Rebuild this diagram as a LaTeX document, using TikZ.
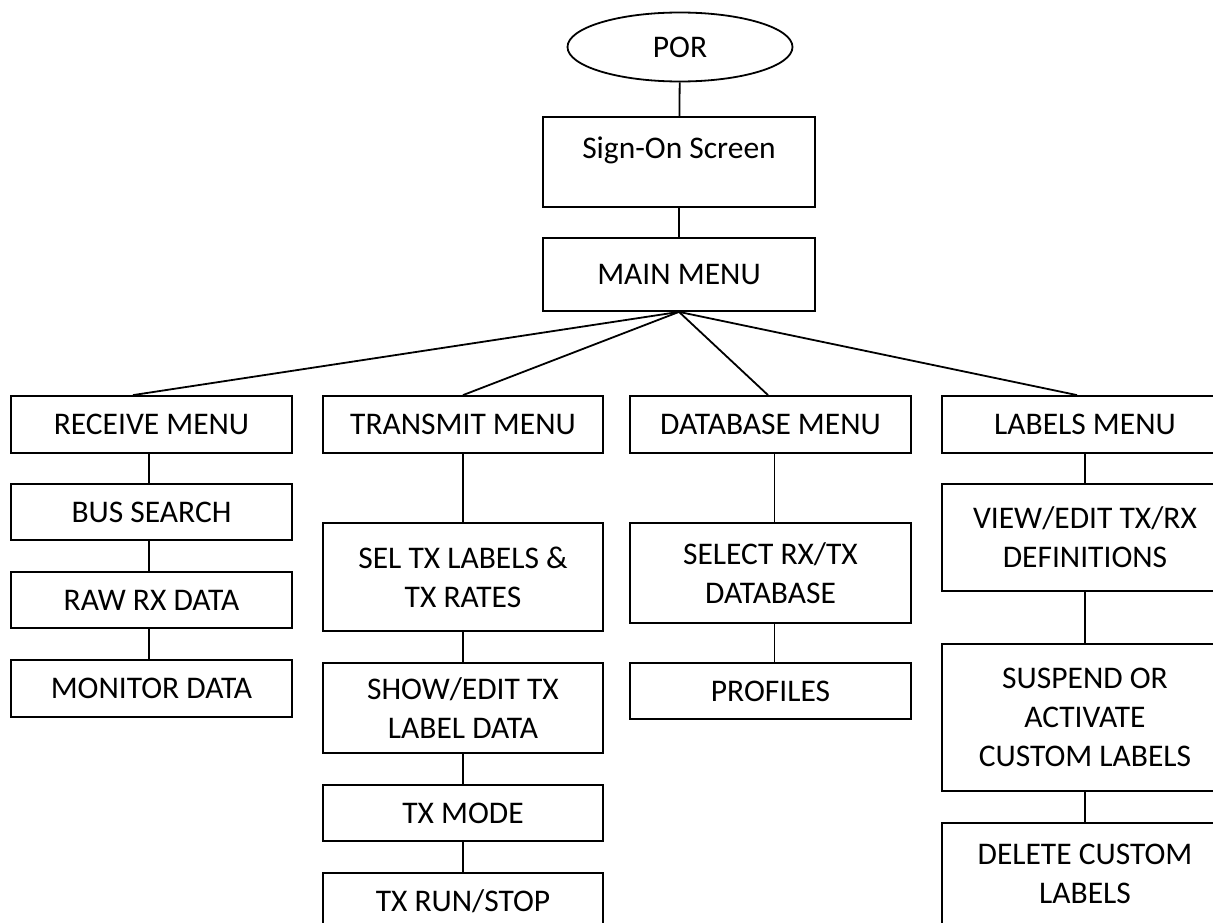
\documentclass[tikz,border=0pt]{standalone}
\usepackage{fontspec}
\setmainfont{Carlito}
\usetikzlibrary{shapes.geometric}

\tikzset{
  menubox/.style={draw=black, line width=1.8pt, rectangle, inner sep=0pt,
    align=center, font=\fontsize{31.5}{39}\selectfont},
  startnode/.style={draw=black, line width=1.8pt, ellipse, inner sep=0pt,
    font=\fontsize{31.5}{39}\selectfont},
  link/.style={draw=black, line width=1.8pt},
}

\begin{document}
\begin{tikzpicture}[x=1pt, y=-1pt]
  \useasboundingbox (0,0) rectangle (1213,923);
  \clip (0,0) rectangle (1213,923);

  % top of the chart
  \node[startnode, minimum width=225, minimum height=69] (por) at (680,47) {POR};
  \node[menubox, minimum width=272, minimum height=90] (sign) at (679,162)
    {Sign-On Screen\\[-22pt]\strut};
  \node[menubox, minimum width=272, minimum height=73] (main) at (679,274.5) {MAIN MENU};

  % receive column
  \node[menubox, minimum width=281, minimum height=57] (recv) at (151.5,424.5) {RECEIVE MENU};
  \node[menubox, minimum width=281, minimum height=56] (bus)  at (151.5,512)   {BUS SEARCH};
  \node[menubox, minimum width=281, minimum height=56] (raw)  at (151.5,600)   {RAW RX DATA};
  \node[menubox, minimum width=281, minimum height=57] (mon)  at (151.5,688.5) {MONITOR DATA};

  % transmit column
  \node[menubox, minimum width=280, minimum height=57]  (tx)   at (463,424.5) {TRANSMIT MENU};
  \node[menubox, minimum width=280, minimum height=108] (sel)  at (463,577)   {SEL TX LABELS \&\\TX RATES};
  \node[menubox, minimum width=280, minimum height=90]  (show) at (463,708)   {SHOW/EDIT TX\\LABEL DATA};
  \node[menubox, minimum width=280, minimum height=56]  (mode) at (463,813)   {TX MODE};
  \node[menubox, minimum width=280, minimum height=56]  (run)  at (463,901)   {TX RUN/STOP};

  % database column
  \node[menubox, minimum width=281, minimum height=57]  (db)    at (770.5,424.5) {DATABASE MENU};
  \node[menubox, minimum width=281, minimum height=100] (seldb) at (770.5,573)   {SELECT RX/TX\\DATABASE};
  \node[menubox, minimum width=281, minimum height=56]  (prof)  at (770.5,691)   {PROFILES};

  % labels column
  \node[menubox, minimum width=286, minimum height=57]  (lab)  at (1085,424.5) {LABELS MENU};
  \node[menubox, minimum width=286, minimum height=107] (view) at (1085,537.5) {VIEW/EDIT TX/RX\\DEFINITIONS};
  \node[menubox, minimum width=286, minimum height=147] (susp) at (1085,717.5) {SUSPEND OR\\ACTIVATE\\CUSTOM LABELS};
  \node[menubox, minimum width=286, minimum height=102] (del)  at (1085,874)   {DELETE CUSTOM\\LABELS};

  % connectors
  \draw[link] (por) -- (sign);
  \draw[link] (sign) -- (main);
  \draw[link] (main.south) -- ([xshift=-18.5]recv.north);
  \draw[link] (main.south) -- (tx.north);
  \draw[link] (main.south) -- ([xshift=-2.5]db.north);
  \draw[link] (main.south) -- ([xshift=-8]lab.north);

  \draw[link] ([xshift=-2.5]recv.south) -- ([xshift=-2.5]bus.north);
  \draw[link] ([xshift=-2.5]bus.south) -- ([xshift=-2.5]raw.north);
  \draw[link] ([xshift=-2.5]raw.south) -- ([xshift=-2.5]mon.north);

  \draw[link] (tx) -- (sel);
  \draw[link] (sel) -- (show);
  \draw[link] (show) -- (mode);
  \draw[link] (mode) -- (run);

  \draw[link] ([xshift=4]db.south) -- ([xshift=4]seldb.north);
  \draw[link] ([xshift=4]seldb.south) -- ([xshift=4]prof.north);

  \draw[link] (lab) -- (view);
  \draw[link] (view) -- (susp);
  \draw[link] (susp) -- (del);
\end{tikzpicture}
\end{document}
